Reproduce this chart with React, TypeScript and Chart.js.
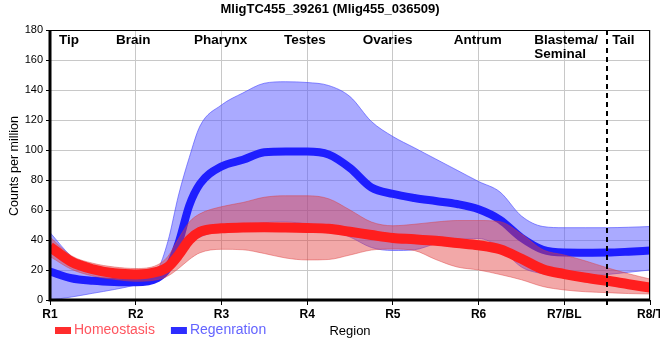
import React, { useEffect, useRef } from 'react';
import { Chart, registerables } from 'chart.js';

Chart.register(...registerables);

const TITLE = 'MligTC455_39261 (Mlig455_036509)';
const Y_TITLE = 'Counts per million';
const X_TITLE = 'Region';
const xTickLabels = ['R1', 'R2', 'R3', 'R4', 'R5', 'R6', 'R7/BL', 'R8/T'];
const regionNames = [['Tip'], ['Brain'], ['Pharynx'], ['Testes'], ['Ovaries'], ['Antrum'], ['Blastema/', 'Seminal'], ['Tail']];
const regionNameX = [1.105, 1.77, 2.68, 3.73, 4.65, 5.71, 6.65, 7.56];
const boundaryX = 7.5;

const xPos = [1, 1.25, 1.5, 1.75, 2, 2.25, 2.375, 2.5, 2.625, 2.75, 3, 3.25, 3.5, 3.75, 4, 4.25, 4.5, 4.75, 5, 5.25, 5.5, 5.75, 6, 6.25, 6.5, 6.75, 7, 7.25, 7.5, 7.75, 8];

const homeoMean = [35.5, 25.5, 20.5, 17.8, 17, 18.8, 22, 30, 40, 45.5, 47.8, 48.3, 48.5, 48.3, 48, 47.5, 45.5, 43.3, 41.3, 40.5, 39.5, 38, 36.5, 33.8, 27.5, 20.5, 17.3, 14.8, 12.8, 10.5, 8.3];
const homeoUpper = [42, 29.5, 24.5, 22, 21, 23.3, 29, 41, 52, 57.5, 62.2, 65, 68.5, 69.5, 69.5, 67.5, 60, 52, 49.5, 50.5, 52, 53, 53, 52.2, 44, 33.5, 30, 26, 21.5, 17.5, 14];
const homeoLower = [29, 20.5, 16, 13.8, 12.5, 13.5, 16, 21, 27, 31.5, 33.8, 33.5, 31, 28, 26.7, 27, 30, 33.3, 34, 33, 27, 22, 20, 17, 13.5, 9, 6.7, 5.5, 4.9, 4.3, 4];

const regenMean = [19, 14.5, 12.8, 12, 11.8, 14.5, 21, 38, 63, 77.5, 89, 93.5, 98.5, 99, 99, 97, 88, 75, 70.7, 68, 66, 64, 60.5, 53.5, 41.5, 33.5, 31.6, 31.5, 31.6, 32.2, 33];
const regenUpper = [45, 29, 20, 16, 14, 20, 39, 70, 95, 116, 130, 138, 144.5, 145.5, 145, 143, 135.6, 119, 109, 101.5, 94, 86.5, 79, 72, 56, 49, 48.2, 48.2, 48.2, 48.5, 49];
const regenLower = [0, 2, 4.5, 7, 10, 14, 18, 28, 38, 42, 46.5, 49, 51.5, 52, 50.5, 47, 42, 35, 33, 33.5, 37.5, 40, 41, 35, 22, 17.5, 15.8, 15.8, 17, 18.5, 20];

const FONT = '"Liberation Sans", Arial, sans-serif';

const toPts = (vals: number[]) => vals.map((v, i) => ({ x: xPos[i], y: v }));

const legendItems = [
  { label: 'Homeostasis', box: 'rgb(255,45,45)', text: 'rgb(255,85,95)' },
  { label: 'Regenration', box: 'rgb(45,45,255)', text: 'rgb(100,100,255)' },
];

const overlay = {
  id: 'overlay',
  afterDatasetsDraw(chart: any) {
    const { ctx, chartArea } = chart;
    const xs = chart.scales.x;
    const { left, right, top, bottom } = chartArea;
    ctx.save();
    ctx.strokeStyle = '#000';
    ctx.lineWidth = 1;
    ctx.beginPath();
    ctx.moveTo(left, top + 0.5);
    ctx.lineTo(right, top + 0.5);
    ctx.moveTo(right - 0.5, top);
    ctx.lineTo(right - 0.5, bottom);
    ctx.stroke();
    ctx.lineWidth = 3;
    ctx.beginPath();
    ctx.moveTo(left, top);
    ctx.lineTo(left, bottom + 1.5);
    ctx.moveTo(left - 1.5, bottom);
    ctx.lineTo(right, bottom);
    ctx.stroke();
    const bx = Math.round(xs.getPixelForValue(boundaryX));
    ctx.lineWidth = 2;
    ctx.setLineDash([5, 4]);
    ctx.beginPath();
    ctx.moveTo(bx, top);
    ctx.lineTo(bx, bottom + 5);
    ctx.stroke();
    ctx.restore();
  },
  afterDraw(chart: any) {
    const { ctx, chartArea } = chart;
    const xs = chart.scales.x;
    ctx.save();
    ctx.fillStyle = '#000';
    ctx.textBaseline = 'middle';
    ctx.font = `bold 13px ${FONT}`;
    ctx.textAlign = 'center';
    ctx.fillText(TITLE, 330, 9);
    ctx.font = `bold 13.5px ${FONT}`;
    ctx.textAlign = 'left';
    regionNames.forEach((lines, i) => {
      const px = xs.getPixelForValue(regionNameX[i]);
      lines.forEach((t, j) => ctx.fillText(t, px, 40 + j * 14));
    });
    ctx.save();
    ctx.translate(15, 166);
    ctx.rotate(-Math.PI / 2);
    ctx.font = `12.5px ${FONT}`;
    ctx.textAlign = 'center';
    ctx.fillText(Y_TITLE, 0, 0);
    ctx.restore();
    ctx.font = `13px ${FONT}`;
    ctx.textAlign = 'center';
    ctx.fillText(X_TITLE, (chartArea.left + chartArea.right) / 2, 331);
    ctx.font = `14px ${FONT}`;
    ctx.textAlign = 'left';
    let lx = 55;
    legendItems.forEach((it) => {
      ctx.fillStyle = it.box;
      ctx.fillRect(lx, 327, 16, 7);
      ctx.fillStyle = it.text;
      ctx.fillText(it.label, lx + 19, 330.5);
      lx += 19 + ctx.measureText(it.label).width + 16;
    });
    ctx.restore();
  },
};

export default function App() {
  const ref = useRef<HTMLCanvasElement | null>(null);
  useEffect(() => {
    if (!ref.current) return;
    Chart.defaults.font.family = FONT;
    const lineBase = { pointRadius: 0, cubicInterpolationMode: 'monotone' as const };
    const chart = new Chart(ref.current, {
      type: 'line',
      data: {
        datasets: [
          { ...lineBase, label: 'Homeostasis', data: toPts(homeoMean), borderColor: 'rgb(255,30,30)', borderWidth: 10, fill: false },
          { ...lineBase, label: 'Homeostasis upper', data: toPts(homeoUpper), borderColor: 'rgba(220,60,60,0.45)', borderWidth: 1, backgroundColor: 'rgba(226,62,62,0.45)', fill: '+1' },
          { ...lineBase, label: 'Homeostasis lower', data: toPts(homeoLower), borderColor: 'rgba(220,60,60,0.45)', borderWidth: 1, fill: false },
          { ...lineBase, label: 'Regenration', data: toPts(regenMean), borderColor: 'rgb(30,30,255)', borderWidth: 8, fill: false },
          { ...lineBase, label: 'Regenration upper', data: toPts(regenUpper), borderColor: 'rgba(70,70,255,0.6)', borderWidth: 1, backgroundColor: 'rgba(85,85,255,0.5)', fill: '+1' },
          { ...lineBase, label: 'Regenration lower', data: toPts(regenLower), borderColor: 'rgba(70,70,255,0.6)', borderWidth: 1, fill: false },
        ],
      },
      options: {
        responsive: false,
        animation: false,
        devicePixelRatio: 1,
        layout: { padding: { top: 30, right: 10, left: 0, bottom: 0 }, autoPadding: false },
        plugins: { legend: { display: false }, title: { display: false }, tooltip: { enabled: false } },
        scales: {
          x: {
            type: 'linear',
            min: 1,
            max: 8,
            afterFit: (s: any) => { s.height = 60; s.paddingLeft = 0; s.paddingRight = 0; },
            ticks: {
              stepSize: 1,
              autoSkip: false,
              maxRotation: 0,
              padding: 2,
              color: '#000',
              font: { size: 12, weight: 'bold' },
              callback: (v: any) => xTickLabels[Math.round(Number(v)) - 1] ?? '',
            },
            grid: { color: '#c8c8c8', tickColor: '#000', tickLength: 5, lineWidth: 1 },
            border: { display: false },
          },
          y: {
            min: 0,
            max: 180,
            afterFit: (s: any) => { s.width = 50; s.paddingTop = 0; s.paddingBottom = 0; },
            ticks: { stepSize: 20, padding: 3, color: '#000', font: { size: 11 } },
            grid: { color: '#c8c8c8', tickColor: '#000', tickLength: 4, lineWidth: 1 },
            border: { display: false },
          },
        },
      },
      plugins: [overlay],
    });
    return () => chart.destroy();
  }, []);
  return (
    <div style={{ position: 'absolute', left: 0, top: 0, width: 660, height: 360, background: '#fff' }}>
      <canvas ref={ref} width={660} height={360} />
    </div>
  );
}
